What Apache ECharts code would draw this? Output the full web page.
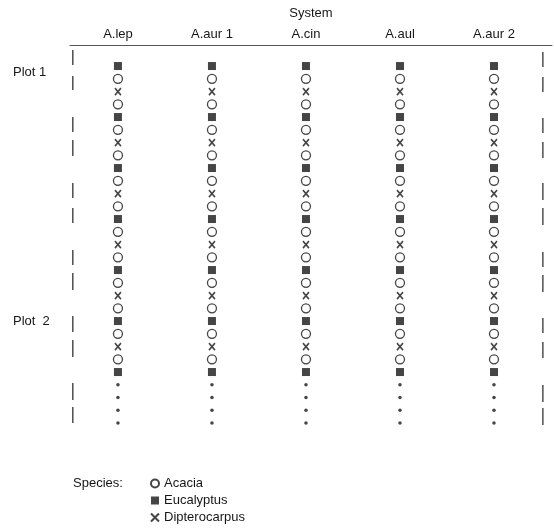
<!DOCTYPE html>
<html>
<head>
<meta charset="utf-8">
<script src="https://cdn.jsdelivr.net/npm/echarts@6/dist/echarts.min.js"></script>
<style>html,body{margin:0;padding:0;background:#fff}#c{width:554px;height:528px}</style>
</head>
<body>
<div id="c"></div>
<script>
// ---- data ----
const columns = ['A.lep', 'A.aur 1', 'A.cin', 'A.aul', 'A.aur 2'];
// species code for each planting row (top to bottom); '.' = continuation dot
const rowSpecies = [
  'E','A','D','A', 'E','A','D','A', 'E','A','D','A',
  'E','A','D','A', 'E','A','D','A', 'E','A','D','A',
  'E', '.','.','.','.'
];
const speciesNames = { A: 'Acacia', E: 'Eucalyptus', D: 'Dipterocarpus' };
const legendOrder = ['A', 'E', 'D'];
const plotLabels = ['Plot 1', 'Plot  2'];
const plotLabelRows = [0.47, 20.0];
// plot boundary dashes, in row units: [start, end]
const leftDashes = [[-1.25,-0.08],[0.78,1.88],[4.0,5.18],[5.8,7.06],[9.18,10.35],[11.14,12.31],
  [14.43,15.61],[16.24,17.57],[19.61,20.86],[21.49,22.82],[24.86,26.2],[26.75,28.0]];
const rightDashes = [[-1.1,0.08],[0.86,2.04],[4.08,5.25],[5.96,7.22],[9.18,10.51],[11.14,12.47],
  [14.59,15.76],[16.39,17.73],[19.76,20.94],[21.65,22.9],[25.02,26.35],[26.82,28.16]];
const leftDashX = -0.48;
const rightDashX = 4.52;

// ---- build ----
const ROW_PX = 12.75;
const yMin = -1.65, yMax = 29;
const font = '"Liberation Sans", Arial, sans-serif';
const ink = '#161616';

function pts(code) {
  const out = [];
  columns.forEach((c, ci) => {
    rowSpecies.forEach((s, ri) => { if (s === code) out.push([ci, ri]); });
  });
  return out;
}
const dashData = [];
leftDashes.forEach(d => dashData.push([leftDashX, d[0], d[1]]));
rightDashes.forEach(d => dashData.push([rightDashX, d[0], d[1]]));

const symbolStyle = {
  A: { symbol: 'circle', symbolSize: 9, itemStyle: { color: '#fff', borderColor: ink, borderWidth: 1.3 } },
  E: { symbol: 'rect', symbolSize: 8, itemStyle: { color: ink } },
  D: { symbol: 'path://M0,0L10,10M10,0L0,10', symbolSize: [6, 7], itemStyle: { color: ink, borderColor: ink, borderWidth: 1.7 } }
};

const series = legendOrder.map(code => Object.assign({
  name: speciesNames[code],
  type: 'scatter',
  data: pts(code),
  silent: true,
  animation: false
}, symbolStyle[code]));

series.push({
  name: 'dots', type: 'scatter', data: pts('.'), symbol: 'circle', symbolSize: 3.5,
  itemStyle: { color: ink }, animation: false
});
series.push({
  name: 'dashes', type: 'custom', data: dashData, animation: false, clip: false,
  renderItem: function (params, api) {
    const a = api.coord([api.value(0), api.value(1)]);
    const b = api.coord([api.value(0), api.value(2)]);
    return { type: 'line', shape: { x1: a[0], y1: a[1], x2: b[0], y2: b[1] },
      style: { stroke: '#333', lineWidth: 1.3 } };
  }
});

const chart = echarts.init(document.getElementById('c'), null, { renderer: 'canvas' });
chart.setOption({
  backgroundColor: '#fff',
  animation: false,
  textStyle: { fontFamily: font },
  title: {
    text: 'Species:', left: 73, top: 477, padding: 0,
    textStyle: { fontFamily: font, fontSize: 13, fontWeight: 'normal', color: ink }
  },
  legend: {
    data: legendOrder.map(c => speciesNames[c]),
    orient: 'vertical', left: 150, top: 477, height: 60, padding: 0,
    itemWidth: 8, itemHeight: 8, itemGap: 4,
    textStyle: { fontFamily: font, fontSize: 13, color: ink },
    selectedMode: false
  },
  grid: { left: 70, top: 45, width: 482, height: (yMax - yMin) * ROW_PX, containLabel: false, outerBoundsMode: 'none' },
  xAxis: {
    type: 'value', position: 'top', min: -0.51, max: 4.617,
    name: 'System', nameLocation: 'middle', nameGap: 25,
    nameTextStyle: { fontFamily: font, fontSize: 13, color: ink },
    axisLine: { show: true, onZero: false, lineStyle: { color: '#555', width: 1 } },
    axisTick: { show: false },
    splitLine: { show: false },
    axisLabel: {
      customValues: columns.map((c, i) => i),
      formatter: v => columns[Math.round(v)],
      fontFamily: font, fontSize: 13, color: ink, margin: 4
    }
  },
  yAxis: {
    type: 'value', inverse: true, min: yMin, max: yMax,
    axisLine: { show: false }, axisTick: { show: false }, splitLine: { show: false },
    axisLabel: {
      customValues: plotLabelRows,
      formatter: v => plotLabels[plotLabelRows.indexOf(v)],
      align: 'left', margin: 57, fontFamily: font, fontSize: 13, color: ink
    }
  },
  series: series
});
</script>
</body>
</html>
